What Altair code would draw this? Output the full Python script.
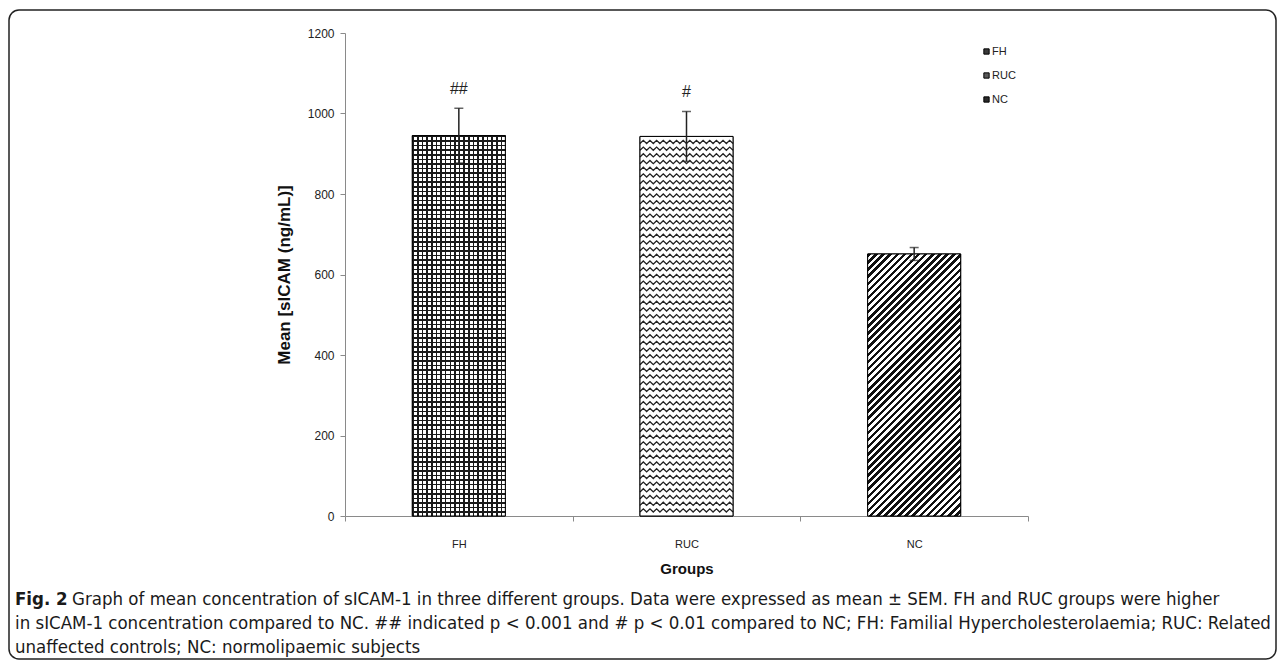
import altair as alt
import pandas as pd

# ---------------- data ----------------
groups = ["FH", "RUC", "NC"]
means = [945, 943, 651]
sems = [68, 62, 16]
sig_marks = ["##", "#", ""]
y_ticks = [0, 200, 400, 600, 800, 1000, 1200]
legend_colors = ["#3a3a3a", "#5a5a5a", "#2a2a2a"]

caption_bold = "Fig. 2"
caption_line1 = ("Graph of mean concentration of sICAM-1 in three different groups. Data were expressed as "
                 "mean \u00b1 SEM. FH and RUC groups were higher")
caption_line2 = ("in sICAM-1 concentration compared to NC. ## indicated p < 0.001 and # p < 0.01 compared to NC; "
                 "FH: Familial Hypercholesterolaemia; RUC: Related")
caption_line3 = "unaffected controls; NC: normolipaemic subjects"

df = pd.DataFrame({"group": groups, "mean": means, "sem": sems, "sig": sig_marks})

# ---------------- layout (pixels) ----------------
W, H = 683, 483
Y_MAX = 1200
BAND_FRAC = 0.4085
BAR_W = W / 3 * BAND_FRAC
FONT = "Liberation Sans, Arial, sans-serif"
CAP_FONT = "DejaVu Sans Condensed, Liberation Sans Narrow, Liberation Sans, sans-serif"
CAP_SIZE = 18.5


def px_h(v):
    return v / Y_MAX * H


def stripes(n, frac, c_on, c_off):
    stops = []
    for i in range(n):
        a = round(i / n, 5)
        b = round((i + frac) / n, 5)
        c = round((i + 1) / n, 5)
        stops += [alt.GradientStop(offset=a, color=c_on),
                  alt.GradientStop(offset=b, color=c_on),
                  alt.GradientStop(offset=b, color=c_off),
                  alt.GradientStop(offset=c, color=c_off)]
    return stops


x_enc = alt.X("group:N", sort=groups,
              scale=alt.Scale(domain=groups, paddingInner=0, paddingOuter=0),
              axis=alt.Axis(title="Groups", labelAngle=0, tickBand="extent", tickSize=5,
                            labelPadding=17, titlePadding=12, domainColor="#8a8a8a",
                            tickColor="#8a8a8a", labelFontSize=11, titleFontSize=15,
                            titleFontWeight="bold", labelColor="#222", titleColor="#111",
                            labelFont=FONT, titleFont=FONT))
y_scale = alt.Scale(domain=[0, Y_MAX], nice=False, zero=True)
y_enc = alt.Y("mean:Q", scale=y_scale,
              axis=alt.Axis(title="Mean [sICAM (ng/mL)]", values=y_ticks, format="d", grid=False,
                            tickSize=5, labelPadding=6, titlePadding=14, domainColor="#8a8a8a",
                            tickColor="#8a8a8a", labelFontSize=12, titleFontSize=17,
                            titleFontWeight="bold", labelColor="#222", titleColor="#111",
                            labelFont=FONT, titleFont=FONT))

base = alt.Chart(df)

# base bars (legend source)
bars = base.mark_bar(width=alt.RelativeBandSize(BAND_FRAC), stroke="black", strokeWidth=1).encode(
    x=x_enc, y=y_enc,
    color=alt.Color("group:N", sort=groups,
                    scale=alt.Scale(domain=groups, range=legend_colors),
                    legend=alt.Legend(title=None, orient="none", legendX=636, legendY=13,
                                      symbolType="square", symbolSize=28,
                                      symbolStrokeColor="black", symbolStrokeWidth=1,
                                      labelFontSize=11, labelFont=FONT, labelColor="#222",
                                      rowPadding=12, labelOffset=0, padding=0)))

# FH : grid pattern (two crossed stripe gradients)
fh_h = px_h(means[0])
fh_rows = round(fh_h / 4.6)
fh_cols = round(BAR_W / 4.6)
fh_a = base.transform_filter(alt.datum.group == "FH").mark_bar(
    width=alt.RelativeBandSize(BAND_FRAC),
    fill=alt.LinearGradient(gradient="linear", x1=0, y1=0, x2=0, y2=1,
                            stops=stripes(fh_rows, 0.34, "#1a1a1a", "#ffffff"))
).encode(x=alt.X("group:N", sort=groups), y=alt.Y("mean:Q"))
fh_b = base.transform_filter(alt.datum.group == "FH").mark_bar(
    width=alt.RelativeBandSize(BAND_FRAC),
    fill=alt.LinearGradient(gradient="linear", x1=0, y1=0, x2=1, y2=0,
                            stops=stripes(fh_cols, 0.34, "#1a1a1a", "rgba(255,255,255,0)"))
).encode(x=alt.X("group:N", sort=groups), y=alt.Y("mean:Q"))

# RUC : white background + zigzag lines (custom symbol path in pixel units; size=4 -> scale 1)
ruc_h = px_h(means[1])
half_w = BAR_W / 2
n_half = 28
row_gap = 6.7
amp = 1.6
n_rows = int(ruc_h // row_gap)
top = -ruc_h / 2 + (ruc_h - (n_rows - 1) * row_gap) / 2
parts = []
for r in range(n_rows):
    yc = top + r * row_gap
    pts = []
    for k in range(n_half + 1):
        xx = -half_w + k * (BAR_W / n_half)
        yy = yc + (amp if k % 2 == 0 else -amp)
        pts.append(f"{xx:.2f},{yy:.2f}")
    parts.append("M" + " L".join(pts))
zigzag_path = " ".join(parts)

ruc_bg = base.transform_filter(alt.datum.group == "RUC").mark_bar(
    width=alt.RelativeBandSize(BAND_FRAC), fill="white"
).encode(x=alt.X("group:N", sort=groups), y=alt.Y("mean:Q"))
ruc_zz = base.transform_filter(alt.datum.group == "RUC").transform_calculate(
    mid="datum.mean / 2"
).mark_point(shape=zigzag_path, size=4, filled=False, stroke="#222222",
             strokeWidth=1.3, opacity=1).encode(
    x=alt.X("group:N", sort=groups), y=alt.Y("mid:Q"))

# NC : diagonal stripes
nc_h = px_h(means[2])
k_ratio = nc_h / BAR_W
ga = (1 + k_ratio) / (1 + k_ratio ** 2)
gb = k_ratio * ga
nc_n = round((BAR_W + nc_h) / 2 ** 0.5 / 5.0)
nc_pat = base.transform_filter(alt.datum.group == "NC").mark_bar(
    width=alt.RelativeBandSize(BAND_FRAC),
    fill=alt.LinearGradient(gradient="linear", x1=0, y1=0, x2=round(ga, 5), y2=round(gb, 5),
                            stops=stripes(nc_n, 0.5, "#111111", "#ffffff"))
).encode(x=alt.X("group:N", sort=groups), y=alt.Y("mean:Q"))

# outlines
outline = base.mark_bar(width=alt.RelativeBandSize(BAND_FRAC), fillOpacity=0,
                        stroke="black", strokeWidth=1).encode(
    x=alt.X("group:N", sort=groups), y=alt.Y("mean:Q"))

# error bars
err = base.transform_calculate(lo="datum.mean - datum.sem", hi="datum.mean + datum.sem")
err_rule = err.mark_rule(color="#222", strokeWidth=1.5).encode(
    x=alt.X("group:N", sort=groups), y=alt.Y("lo:Q"), y2="hi:Q")
err_top = err.mark_tick(color="#222", thickness=1.5, size=9).encode(
    x=alt.X("group:N", sort=groups), y=alt.Y("hi:Q"))
err_bot = err.mark_tick(color="#222", thickness=1.5, size=9).encode(
    x=alt.X("group:N", sort=groups), y=alt.Y("lo:Q"))
sig = err.mark_text(font=FONT, fontSize=16, color="#222", baseline="middle", dy=-19).encode(
    x=alt.X("group:N", sort=groups), y=alt.Y("hi:Q"), text="sig:N")

# figure frame and caption (page decoration)
one = pd.DataFrame({"k": [0]})
frame = alt.Chart(one).mark_rect(fillOpacity=0, stroke="#222", strokeWidth=1.5,
                                 cornerRadius=10).encode(
    x=alt.value(-336), x2=alt.value(931), y=alt.value(-23), y2=alt.value(626))


def cap(text, x, y, bold=False):
    return alt.Chart(one).mark_text(align="left", baseline="middle", font=CAP_FONT,
                                    fontSize=CAP_SIZE, fontWeight="bold" if bold else "normal",
                                    color="#1a1a1a").encode(
        x=alt.value(x), y=alt.value(y), text=alt.value(text))


caption = [
    cap(caption_bold, 15 - 345, 599 - 33, bold=True),
    cap(caption_line1, 72 - 345, 599 - 33),
    cap(caption_line2, 15 - 345, 623 - 33),
    cap(caption_line3, 15 - 345, 647 - 33),
]

chart = alt.layer(
    frame, bars, fh_a, fh_b, ruc_bg, ruc_zz, nc_pat, outline,
    err_rule, err_top, err_bot, sig, *caption
).properties(
    width=W, height=H,
    autosize=alt.AutoSizeParams(type="none"),
    padding={"left": 337, "top": 25, "right": 249, "bottom": 144},
    background="white",
).configure_view(stroke=None)

chart.save("out.html", embed_options={"renderer": "svg", "actions": False})
